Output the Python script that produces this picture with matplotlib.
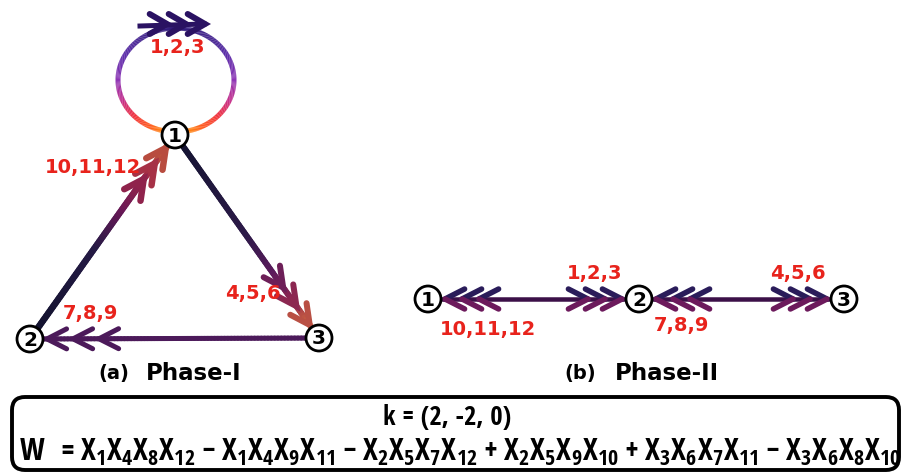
import numpy as np
import matplotlib
matplotlib.use('Agg')
import matplotlib.pyplot as plt
from matplotlib.collections import LineCollection
from matplotlib.colors import LinearSegmentedColormap
from matplotlib.patches import FancyBboxPatch, Circle
from matplotlib import font_manager

# ---------------- data ----------------
node_ids = ['1', '2', '3']
phase1_xy = {'1': (175, 135), '2': (30, 339), '3': (319, 338)}
phase1_edges = [('2', '1', '10,11,12'), ('1', '3', '4,5,6'), ('3', '2', '7,8,9')]
phase1_label_xy = {'10,11,12': (93, 168), '4,5,6': (253, 293), '7,8,9': (90, 313)}
loop_label = '1,2,3'
loop_label_xy = (178, 48)
phase2_xy = {'1': (428, 299), '2': (639, 299), '3': (844, 299)}
phase2_arrows = [('2', '1', '10,11,12'), ('1', '2', '1,2,3'), ('3', '2', '7,8,9'), ('2', '3', '4,5,6')]
phase2_label_xy = {'10,11,12': (488, 329), '1,2,3': (595, 273), '7,8,9': (681, 326), '4,5,6': (798, 273)}
captions = [('(a)', 'Phase-I', 114, 194), ('(b)', 'Phase-II', 580, 667)]
k_vector = (2, -2, 0)
w_terms = [(+1, [1, 4, 8, 12]), (-1, [1, 4, 9, 11]), (-1, [2, 5, 7, 12]),
           (+1, [2, 5, 9, 10]), (+1, [3, 6, 7, 11]), (-1, [3, 6, 8, 10])]

W, H = 905, 475
PX = 0.72  # points per pixel at dpi 100
RED = '#e8231c'
NODE_R = 13

fig = plt.figure(figsize=(W / 100, H / 100), dpi=100)
ax = fig.add_axes([0, 0, 1, 1])
ax.set_xlim(0, W)
ax.set_ylim(H, 0)
ax.axis('off')


def unit(v):
    v = np.asarray(v, float)
    return v / np.hypot(*v)


def rot(v, a):
    c, s = np.cos(a), np.sin(a)
    return np.array([c * v[0] - s * v[1], s * v[0] + c * v[1]])


def chevron(tip, d, color, L=20, ang=28, lw=5.5, color2=None):
    d = unit(d)
    tip = np.asarray(tip, float)
    a = np.radians(ang)
    p1 = tip - L * rot(d, a)
    p2 = tip - L * rot(d, -a)
    if color2 is None:
        ax.plot([p1[0], tip[0], p2[0]], [p1[1], tip[1], p2[1]], color=color,
                lw=lw * PX, solid_capstyle='round', solid_joinstyle='miter', zorder=4)
    else:
        arms = sorted([p1, p2], key=lambda p: p[1])
        ax.plot([arms[0][0], tip[0]], [arms[0][1], tip[1]], color=color,
                lw=lw * PX, solid_capstyle='round', zorder=4)
        ax.plot([arms[1][0], tip[0]], [arms[1][1], tip[1]], color=color2,
                lw=lw * PX, solid_capstyle='round', zorder=4)


def grad_line(p0, p1, cmap, lw, n=80):
    p0 = np.asarray(p0, float)
    p1 = np.asarray(p1, float)
    t = np.linspace(0, 1, n + 1)
    pts = p0[None, :] + (p1 - p0)[None, :] * t[:, None]
    segs = np.stack([pts[:-1], pts[1:]], axis=1)
    cols = cmap((t[:-1] + t[1:]) / 2)
    lc = LineCollection(segs, colors=cols, linewidths=lw * PX, capstyle='round', zorder=3)
    ax.add_collection(lc)


def node(xy, label):
    ax.add_patch(Circle(xy, NODE_R, facecolor='white', edgecolor='black', lw=2.0, zorder=6))
    ax.text(xy[0], xy[1] + 1, label, ha='center', va='center', fontsize=14.5,
            fontweight='bold', family='DejaVu Sans', color='black', zorder=7)


def red_label(xy, s, size=14):
    ax.text(xy[0], xy[1], s, ha='center', va='center', fontsize=size, fontweight='bold',
            family='DejaVu Sans', color=RED, zorder=8)


# ---------------- Phase I : self loop on node 1 ----------------
loop_c = np.array([176, 80])
loop_rx, loop_ry = 58, 52
loop_cmap = LinearSegmentedColormap.from_list('loop', [
    (0.0, '#2c1478'), (0.25, '#4a18a0'), (0.5, '#8424b0'), (0.7, '#c01c80'),
    (0.85, '#f0202c'), (0.95, '#ff5010'), (1.0, '#ff8a00')])
th = np.linspace(0, 2 * np.pi, 361)
lx = loop_c[0] + loop_rx * np.cos(th)
ly = loop_c[1] + loop_ry * np.sin(th)
pts = np.column_stack([lx, ly])
segs = np.stack([pts[:-1], pts[1:]], axis=1)
hv = ((ly[:-1] + ly[1:]) / 2 - (loop_c[1] - loop_ry)) / (2 * loop_ry)
ax.add_collection(LineCollection(segs, colors=loop_cmap(hv), linewidths=5 * PX, zorder=3))
# arrows on top of the loop
top_y = loop_c[1] - loop_ry - 4
ax.plot([140, 204], [top_y + 2, top_y], color='#2a1262', lw=5 * PX, zorder=4)
for tx in (205, 186, 167):
    chevron((tx, top_y), (1, 0), '#2a1262', L=20, ang=30, lw=6)
red_label(loop_label_xy, loop_label)

# ---------------- Phase I : triangle edges ----------------
cm_21 = LinearSegmentedColormap.from_list('e21', [
    (0, '#12122e'), (0.45, '#251a45'), (0.66, '#6a1856'), (0.84, '#a02848'), (1, '#c8643a')])
cm_13 = LinearSegmentedColormap.from_list('e13', [
    (0, '#141432'), (0.5, '#2c1a48'), (0.7, '#5a1a5c'), (0.86, '#922850'), (1, '#d8703a')])
cm_32 = LinearSegmentedColormap.from_list('e32', ['#4c1a5a', '#4c1a5a'])
# colormap, line width, chevron spacing, first chevron distance
edge_style = {('2', '1'): (cm_21, 6.5, 19, 16), ('1', '3'): (cm_13, 6.0, 23, 16),
              ('3', '2'): (cm_32, 5.0, 26, 17)}

for a, b, lab in phase1_edges:
    cm, lw, spacing, first = edge_style[(a, b)]
    pa, pb = np.array(phase1_xy[a], float), np.array(phase1_xy[b], float)
    d = unit(pb - pa)
    length = np.hypot(*(pb - pa))
    grad_line(pa + d * (NODE_R - 2), pb - d * (NODE_R - 2), cm, lw)
    for i in range(3):
        dist = first + i * spacing
        tip = pb - d * dist
        frac = 1 - dist / length
        chevron(tip, d, cm(frac), L=22, ang=27, lw=lw)
    red_label(phase1_label_xy[lab], lab)

for nid in node_ids:
    node(phase1_xy[nid], nid)

# ---------------- Phase II ----------------
p2_line = '#3c1048'
ax.plot([phase2_xy['1'][0], phase2_xy['3'][0]], [phase2_xy['1'][1]] * 2,
        color=p2_line, lw=4.5 * PX, zorder=3)
for a, b, lab in phase2_arrows:
    pa, pb = np.array(phase2_xy[a], float), np.array(phase2_xy[b], float)
    d = unit(pb - pa)
    for i in range(3):
        tip = pb - d * (17 + i * 17)
        chevron(tip, d, '#2a1c5a', L=22, ang=27, lw=5.5, color2='#6c1a5c')
    red_label(phase2_label_xy[lab], lab)
for nid in node_ids:
    node(phase2_xy[nid], nid)

# ---------------- captions ----------------
for small, big, xs, xb in captions:
    ax.text(xs, 374, small, ha='center', va='center', fontsize=14, fontweight='bold',
            family='DejaVu Sans', color='black')
    ax.text(xb, 373, big, ha='center', va='center', fontsize=16.5, fontweight='bold',
            family='DejaVu Sans', color='black')

# ---------------- formula box ----------------
ax.add_patch(FancyBboxPatch((12, 397), 887, 73, boxstyle='round,pad=0,rounding_size=13',
                            facecolor='white', edgecolor='black', lw=2.8, zorder=2))


def pick_family():
    names = {f.name for f in font_manager.fontManager.ttflist}
    for cand in ('Liberation Sans Narrow', 'Open Sans Condensed', 'Roboto Condensed'):
        if cand in names:
            return cand
    return 'DejaVu Sans'


fam = pick_family()
stretch = 'condensed' if fam == 'DejaVu Sans' else 'normal'

parts = []
for i, (sgn, idx) in enumerate(w_terms):
    term = ''.join('X_{%d}' % j for j in idx)
    if i == 0:
        parts.append(term)
    else:
        parts.append(('+' if sgn > 0 else '-') + term)
w_str = r'$\mathregular{W\ = ' + ''.join(parts) + '}$'
k_str = 'k = (%s)' % ', '.join(str(v) for v in k_vector)

wt = ax.text(19, 452, w_str, ha='left', va='center', fontsize=16, family=fam,
             fontstretch=stretch, color='black', zorder=5)
kt = ax.text(447, 417, k_str, ha='center', va='center', fontsize=16, family=fam,
             fontstretch=stretch, color='black', zorder=5)

fig.canvas.draw()
r = fig.canvas.get_renderer()
wbb = wt.get_window_extent(r)
scale = (903 - 19) / wbb.width
fs = 16 * scale
wt.set_fontsize(fs)
kbb = kt.get_window_extent(r)
kt.set_fontsize(16 * 128 / kbb.width)

fig.savefig('out.png', dpi=100)
